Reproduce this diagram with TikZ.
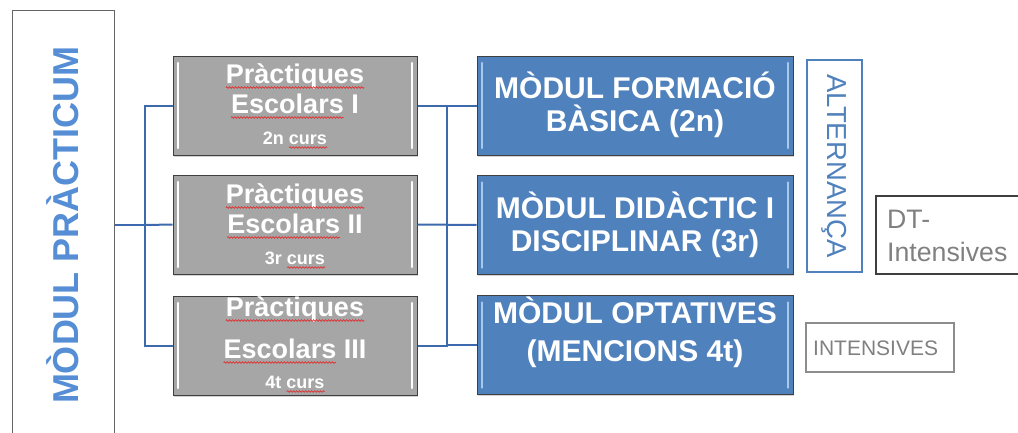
\documentclass[tikz,border=0pt]{standalone}
\usepackage{fontspec}
\setmainfont{Liberation Sans}
\usetikzlibrary{shadows,decorations.pathmorphing}
\definecolor{connc}{HTML}{3D6AAE}
\definecolor{grayfill}{HTML}{A6A6A6}
\definecolor{bluefill}{HTML}{4F81BD}
\definecolor{bluelite}{HTML}{A9C8EC}
\definecolor{darkedge}{HTML}{3F3F3F}
\definecolor{titleblue}{HTML}{558ED5}
\definecolor{altblue}{HTML}{4F81BD}
\definecolor{txtgray}{HTML}{808080}
\definecolor{squig}{HTML}{E03030}
\newcommand\gfont{\fontsize{27}{30}\selectfont\bfseries}
\newcommand\sfontc{\fontsize{18}{20}\selectfont\bfseries}
\newcommand\bfontc{\fontsize{30}{32}\selectfont\bfseries}
\newlength\wEsc
\newlength\wCurs
\tikzset{
  conn/.style={draw=connc, line width=2pt},
  squigs/.style={draw=squig, line width=0.7pt, decorate,
    decoration={snake, segment length=3pt, amplitude=0.8pt}},
  bevel/.style={path picture={
    \draw[#1, line width=2.5pt, line cap=round]
      ([xshift=5pt,yshift=-7pt]path picture bounding box.north west) --
      ([xshift=5pt,yshift=7pt]path picture bounding box.south west);
    \draw[#1, line width=2.5pt, line cap=round]
      ([xshift=-5pt,yshift=-7pt]path picture bounding box.north east) --
      ([xshift=-5pt,yshift=7pt]path picture bounding box.south east);}},
  graybox/.style={rectangle, draw=darkedge, line width=1pt, fill=grayfill,
    minimum width=244pt, minimum height=99pt, inner sep=0pt,
    bevel=white, drop shadow={shadow xshift=1pt, shadow yshift=-1.5pt, opacity=0.35}},
  bluebox/.style={rectangle, draw=darkedge, line width=1pt, fill=bluefill,
    minimum width=316pt, minimum height=99pt, inner sep=0pt,
    bevel=bluelite, drop shadow={shadow xshift=1pt, shadow yshift=-1.5pt, opacity=0.35}},
  gtext/.style={anchor=base, inner sep=0pt, text=white, font=\gfont},
  stext/.style={anchor=base, inner sep=0pt, text=white, font=\sfontc},
  btext/.style={anchor=base, inner sep=0pt, text=white, font=\bfontc},
}
\begin{document}
\settowidth\wEsc{\gfont Escolars}%
\settowidth\wCurs{\sfontc curs}%
\begin{tikzpicture}[x=1pt,y=-1pt]
\useasboundingbox (0,0) rectangle (1018,432);
\clip (0,0) rectangle (1018,432);
% left box
\node[rectangle, draw=darkedge!80, line width=1pt, minimum width=102pt, minimum height=430pt, inner sep=0pt] (prac) at (63,225) {};
\node[rotate=90, text=titleblue, font=\fontsize{36}{40}\selectfont\bfseries, inner sep=0pt] (pract) at (63,225) {MÒDUL PRÀCTICUM};
% gray boxes
\node[graybox] (g1) at (295,105.5) {};
\node[graybox] (g2) at (295,224.5) {};
\node[graybox] (g3) at (295,345.5) {};
\node[gtext] (g1a) at (295,83) {Pràctiques};
\node[gtext] (g1b) at (295,113) {Escolars I};
\node[stext] (g1c) at (295,144) {2n curs};
\node[gtext] (g2a) at (295,203) {Pràctiques};
\node[gtext] (g2b) at (295,233) {Escolars II};
\node[stext] (g2c) at (295,264) {3r curs};
\node[gtext] (g3a) at (295,316) {Pràctiques};
\node[gtext] (g3b) at (295,358) {Escolars III};
\node[stext] (g3c) at (295,388) {4t curs};
\foreach \n in {1,2,3}{
  \draw[squigs] ([yshift=-4.5pt]g\n a.base west) -- ([yshift=-4.5pt]g\n a.base east);
  \draw[squigs] ([yshift=-4.5pt]g\n b.base west) -- ([xshift=\wEsc,yshift=-4.5pt]g\n b.base west);
  \draw[squigs] ([xshift=-\wCurs,yshift=-3.5pt]g\n c.base east) -- ([yshift=-3.5pt]g\n c.base east);
}
% blue boxes
\node[bluebox] (b1) at (635,105.5) {};
\node[bluebox] (b2) at (635,225) {};
\node[bluebox] (b3) at (635,345) {};
\node[btext] (b1a) at (635,98) {MÒDUL FORMACIÓ};
\node[btext] (b1b) at (635,131) {BÀSICA (2n)};
\node[btext] (b2a) at (635,218) {MÒDUL DIDÀCTIC I};
\node[btext] (b2b) at (635,251) {DISCIPLINAR (3r)};
\node[btext] (b3a) at (635,323) {MÒDUL OPTATIVES};
\node[btext] (b3b) at (635,361) {(MENCIONS 4t)};
% right boxes
\node[rectangle, draw=altblue, line width=2.5pt, minimum width=55pt, minimum height=212pt, inner sep=0pt] (alt) at (834.5,166) {};
\node[rotate=-90, text=altblue, font=\fontsize{27.5}{30}\selectfont, inner sep=0pt] (altt) at (834.5,166) {ALTERNANÇA};
\node[rectangle, draw=darkedge, line width=1.2pt, minimum width=154pt, minimum height=78pt, inner sep=0pt] (dt) at (953,235) {};
\node[anchor=base west, text=txtgray, font=\fontsize{26.7}{30}\selectfont, inner sep=0pt] (dta) at (887,228) {DT-};
\node[anchor=base west, text=txtgray, font=\fontsize{26.7}{30}\selectfont, inner sep=0pt] (dtb) at (887,261) {Intensives};
\node[rectangle, draw=txtgray!90, line width=2.5pt, minimum width=148pt, minimum height=49pt, inner sep=0pt] (int) at (880,347.5) {};
\node[anchor=base west, text=txtgray, font=\fontsize{21}{24}\selectfont, inner sep=0pt] (intt) at (813,355) {INTENSIVES};
% connectors
\coordinate (j1) at (145,225);
\coordinate (j2) at (447,225);
\draw[conn] (prac.east) -- (j1);
\draw[conn] (g1.west) -| (j1);
\draw[conn] (g2.west) -- (j1);
\draw[conn] (g3.west) -| (j1);
\draw[conn] (g1.east) -| (j2);
\draw[conn] (g3.east) -| (j2);
\draw[conn] (g2.east) -- (b2.west);
\draw[conn] (b1.west) -| (j2);
\draw[conn] (b3.west) -| (j2);
\end{tikzpicture}
\end{document}
